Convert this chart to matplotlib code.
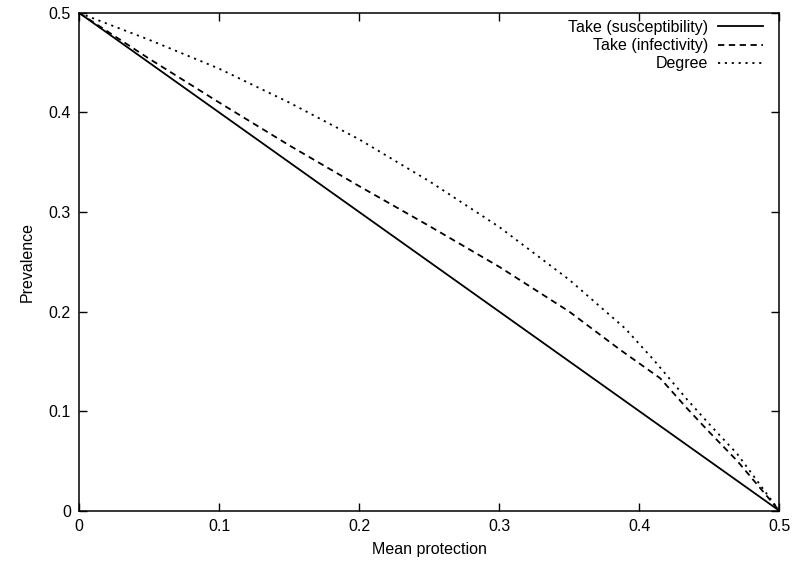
import matplotlib
matplotlib.use('Agg')
import matplotlib.pyplot as plt
from matplotlib.ticker import FuncFormatter

# values
susc_x = [0.0, 0.5]
susc_y = [0.5, 0.0]

infect_x = [0.0, 0.05, 0.1, 0.15, 0.2, 0.25, 0.3, 0.35, 0.386, 0.415, 0.434, 0.45, 0.47, 0.5]
infect_y = [0.5, 0.454, 0.410, 0.367, 0.326, 0.286, 0.245, 0.200, 0.162, 0.133, 0.103, 0.079, 0.050, 0.0]

degree_x = [0.0, 0.05, 0.1, 0.15, 0.2, 0.25, 0.3, 0.35, 0.39, 0.41, 0.434, 0.45, 0.47, 0.5]
degree_y = [0.5, 0.473, 0.444, 0.410, 0.373, 0.331, 0.285, 0.232, 0.183, 0.152, 0.112, 0.087, 0.057, 0.0]

ticks = [0, 0.1, 0.2, 0.3, 0.4, 0.5]

plt.rcParams['font.family'] = ['Liberation Sans', 'DejaVu Sans']
plt.rcParams['font.size'] = 11.5

fig = plt.figure(figsize=(8, 5.63), dpi=100)
ax = fig.add_axes([0.099, 0.093, 0.875, 0.884])

ax.plot(susc_x, susc_y, color='black', lw=1.3, label='Take (susceptibility)')
ax.plot(infect_x, infect_y, color='black', lw=1.3, dashes=(3.5, 2.5), label='Take (infectivity)')
ax.plot(degree_x, degree_y, color='black', lw=1.3, dashes=(1.2, 2.6), label='Degree')

ax.set_xlim(0, 0.5)
ax.set_ylim(0, 0.5)
ax.set_xticks(ticks)
ax.set_yticks(ticks)
fmt = FuncFormatter(lambda v, p: '%g' % v)
ax.xaxis.set_major_formatter(fmt)
ax.yaxis.set_major_formatter(fmt)
ax.tick_params(direction='in', length=6, width=1, top=True, right=True, pad=6)
for s in ax.spines.values():
    s.set_linewidth(1.1)

ax.set_xlabel('Mean protection', labelpad=6)
ax.set_ylabel('Prevalence', labelpad=10)

ax.legend(loc='upper right', frameon=False, markerfirst=False, handlelength=2.8,
          handletextpad=0.6, labelspacing=0.2, borderaxespad=0.2,
          bbox_to_anchor=(0.99, 1.005))

fig.savefig('out.png', dpi=100)
